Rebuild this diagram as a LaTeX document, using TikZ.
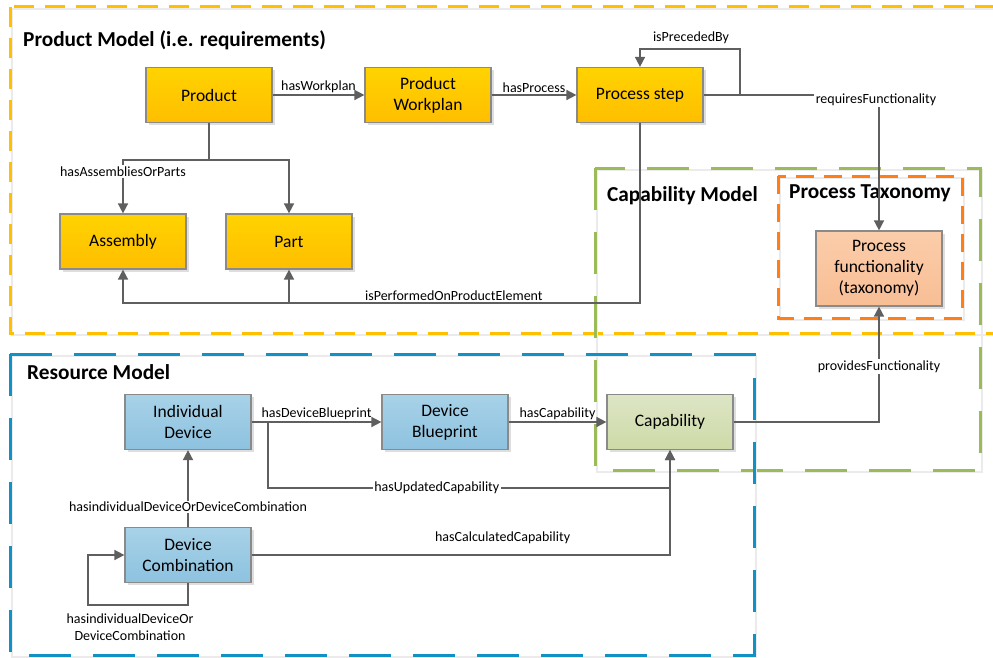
\documentclass[tikz,border=0pt]{standalone}
\usepackage{fontspec}
\setmainfont{Carlito}
\usetikzlibrary{arrows.meta,shadows}

\definecolor{lineGray}{HTML}{5F5F5F}
\definecolor{borderGray}{HTML}{8A8A8A}
\definecolor{prodYellow}{HTML}{FFC000}
\definecolor{capGreen}{HTML}{9BBB59}
\definecolor{taxOrange}{HTML}{FF7F16}
\definecolor{resBlue}{HTML}{1192C6}
\definecolor{yTop}{HTML}{FFD300}
\definecolor{yBot}{HTML}{FFBE00}
\definecolor{bTop}{HTML}{A8D2E8}
\definecolor{bBot}{HTML}{8DC2DF}
\definecolor{gTop}{HTML}{DDE5C5}
\definecolor{gBot}{HTML}{CEDAA7}
\definecolor{oTop}{HTML}{FBCDAA}
\definecolor{oBot}{HTML}{F8BE95}

\tikzset{
  block/.style={draw=borderGray, line width=1.2pt, minimum width=126pt, minimum height=55pt,
    inner sep=2pt, align=center, font=\fontsize{17.5}{21}\selectfont,
    drop shadow={shadow xshift=2.5pt, shadow yshift=-2.5pt, fill=black!13, opacity=1}},
  ynode/.style={block, top color=yTop, bottom color=yBot},
  bnode/.style={block, top color=bTop, bottom color=bBot},
  gnode/.style={block, top color=gTop, bottom color=gBot},
  onode/.style={block, minimum height=75pt, top color=oTop, bottom color=oBot},
  title/.style={anchor=west, inner sep=0pt, font=\bfseries\fontsize{21.3}{24}\selectfont},
  lbl/.style={inner sep=1.5pt, font=\fontsize{14}{17}\selectfont},
  link/.style={draw=lineGray, line width=1.6pt},
  rel/.style={link, -{Triangle[length=10pt,width=10pt]}},
  boxshadow/.style={draw=black!8, line width=1.6pt, shift={(2pt,-2pt)}},
  prodbox/.style={draw=prodYellow, line width=3pt, dash pattern=on 20pt off 11pt},
  capbox/.style={draw=capGreen, line width=3pt, dash pattern=on 42pt off 22pt},
  taxbox/.style={draw=taxOrange, line width=3pt, dash pattern=on 18pt off 10pt},
  resbox/.style={draw=resBlue, line width=3pt, dash pattern=on 42pt off 22pt}
}

\begin{document}
\begin{tikzpicture}[x=1pt, y=-1pt]
\clip (0,0) rectangle (993,658);

\draw[boxshadow] (10,7) rectangle (998,333);
\draw[prodbox] (10,7) rectangle (998,333);
\draw[boxshadow] (595,168) rectangle (980,470);
\draw[capbox] (595,168) rectangle (980,470);
\draw[boxshadow] (778,176) rectangle (962,318);
\draw[taxbox] (778,176) rectangle (962,318);
\draw[boxshadow] (10,354) rectangle (754,655);
\draw[resbox] (10,354) rectangle (754,655);

\node[title] (ptitle) at (23,40) {Product Model (i.e. requirements)};
\node[title] (ctitle) at (607,196) {Capability Model};
\node[title] (ttitle) at (789,193) {Process Taxonomy};
\node[title] (rtitle) at (27,372) {Resource Model};

\node[ynode] (product) at (209,95) {Product};
\node[ynode] (workplan) at (428,95) {Product\\Workplan};
\node[ynode] (pstep) at (640,95) {Process step};
\node[ynode] (assembly) at (123,241.5) {Assembly};
\node[ynode] (part) at (289,241.5) {Part};
\node[onode] (pfunc) at (879,268.5) {Process\\functionality\\(taxonomy)};
\node[bnode] (indev) at (188,422) {Individual\\Device};
\node[bnode] (blueprint) at (445,422) {Device\\Blueprint};
\node[gnode] (capab) at (670,422) {Capability};
\node[bnode] (devcomb) at (188,555) {Device\\Combination};

\coordinate (pbranch) at (209,160);
\coordinate (loopr) at (740,95);
\coordinate (loopt) at (640,49);
\coordinate (perfcorner) at (640,303);
\coordinate (perfpart) at (289,303);
\coordinate (updsplit) at (268,422);
\coordinate (updcorner) at (268,488);
\coordinate (combloop) at (88,605);

\draw[rel] (product) -- node[lbl, above] {hasWorkplan} (workplan);
\draw[rel] (workplan) -- node[lbl, above] {hasProcess} (pstep);
\draw[link] (product) -- (pbranch);
\draw[rel] (pbranch) -| node[lbl, fill=white, pos=0.61] {hasAssembliesOrParts} (assembly);
\draw[rel] (pbranch) -| (part);
\draw[rel] (pstep.east) -- (loopr) |- node[lbl, above, pos=0.745, yshift=3pt] {isPrecededBy} (loopt) -- (pstep.north);
\draw[rel] (pstep.east) -| node[lbl, fill=white, pos=0.5, xshift=-3pt, yshift=-5pt] {requiresFunctionality} (pfunc.north);
\draw[rel] (pstep.south) -- (perfcorner) -| node[lbl, above, pos=0.18] {isPerformedOnProductElement} (assembly.south);
\draw[rel] (perfpart) -- (part);

\draw[rel] (indev) -- node[lbl, above] {hasDeviceBlueprint} (blueprint);
\draw[rel] (blueprint) -- node[lbl, above] {hasCapability} (capab);
\draw[rel] (capab) -| node[lbl, fill=white, pos=0.74] {providesFunctionality} (pfunc);
\draw[rel] (updsplit) -- (updcorner) -| node[lbl, fill=white, pos=0.21] {hasUpdatedCapability} (capab);
\draw[rel] (devcomb) -| node[lbl, above, pos=0.3, yshift=9pt] {hasCalculatedCapability} (capab);
\draw[rel] (devcomb) -- node[lbl, fill=white, pos=0.26] {hasindividualDeviceOrDeviceCombination} (indev);
\draw[rel] (devcomb.south) |- (combloop) |- (devcomb.west);
\node[lbl, align=center] (looplbl) at (130,627) {hasindividualDeviceOr\\DeviceCombination};
\end{tikzpicture}
\end{document}
